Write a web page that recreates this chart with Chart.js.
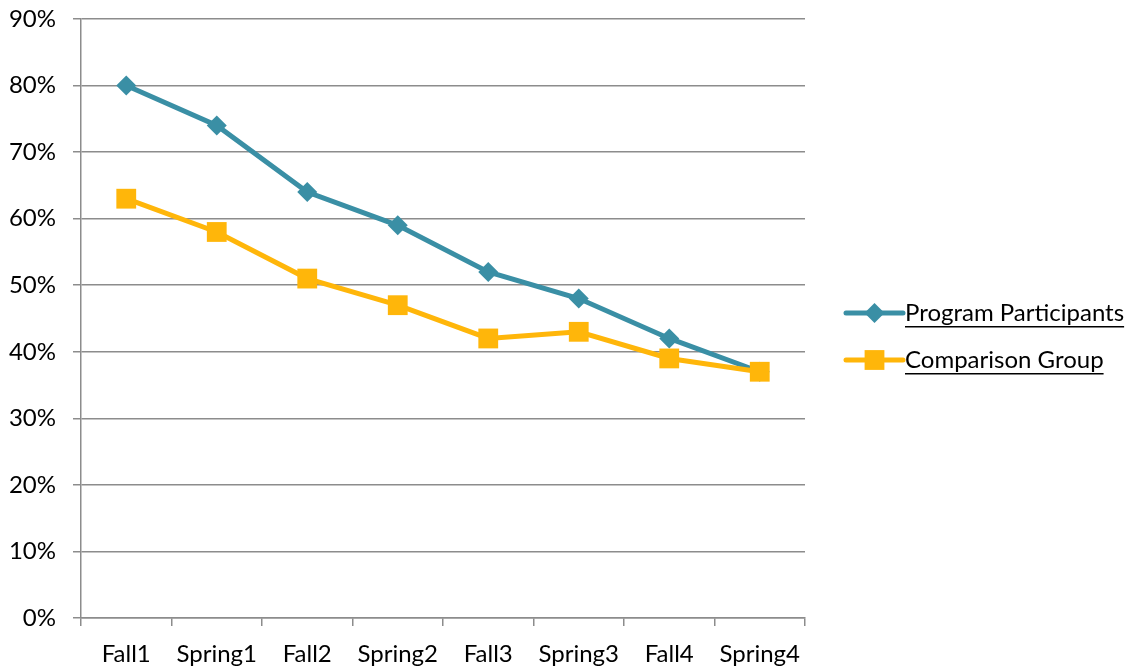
<!DOCTYPE html>
<html>
<head>
<meta charset="utf-8">
<script src="https://cdn.jsdelivr.net/npm/chart.js@4"></script>
<style>
  html, body { margin: 0; padding: 0; background: #fff; }
  #wrap { width: 1138px; height: 669px; position: relative; }
</style>
</head>
<body>
<div id="wrap"><canvas id="c" width="1138" height="669"></canvas></div>
<script>
const categories = ['Fall1', 'Spring1', 'Fall2', 'Spring2', 'Fall3', 'Spring3', 'Fall4', 'Spring4'];
const programParticipants = [80, 74, 64, 59, 52, 48, 42, 37];
const comparisonGroup = [63, 58, 51, 47, 42, 43, 39, 37];
const seriesNames = ['Program Participants', 'Comparison Group'];
const yMin = 0, yMax = 90, yStep = 10;

const FONT = 'Lato, "Open Sans", sans-serif';
const FONT_SIZE = 24;
const TEAL = '#3A8FA5';
const GOLD = '#FFB60A';
const GRID = '#8c8c8c';

// Legend drawn at the right of the plot, with underlined labels
const sideLegend = {
  id: 'sideLegend',
  afterDraw(chart) {
    const ctx = chart.ctx;
    const x0 = 846, x1 = 903, tx = 905;
    const rows = [313, 360];
    ctx.save();
    chart.data.datasets.forEach((ds, i) => {
      const y = rows[i];
      const cx = (x0 + x1) / 2;
      ctx.strokeStyle = ds.borderColor;
      ctx.lineWidth = ds.borderWidth;
      ctx.lineCap = 'round';
      ctx.beginPath();
      ctx.moveTo(x0, y);
      ctx.lineTo(x1, y);
      ctx.stroke();
      ctx.fillStyle = ds.borderColor;
      ctx.beginPath();
      if (ds.pointStyle === 'rect') {
        const s = Math.SQRT1_2 * ds.pointRadius;
        ctx.rect(cx - s, y - s, 2 * s, 2 * s);
      } else {
        const r = ds.pointRadius;
        ctx.moveTo(cx, y - r); ctx.lineTo(cx + r, y); ctx.lineTo(cx, y + r); ctx.lineTo(cx - r, y);
        ctx.closePath();
      }
      ctx.fill();
      ctx.fillStyle = '#000';
      ctx.font = FONT_SIZE + 'px ' + FONT;
      ctx.textBaseline = 'middle';
      ctx.textAlign = 'left';
      ctx.fillText(ds.label, tx, y);
      const w = ctx.measureText(ds.label).width;
      ctx.fillRect(tx, y + 13, w, 1.5);
    });
    ctx.restore();
  }
};

new Chart(document.getElementById('c'), {
  type: 'line',
  data: {
    labels: categories,
    datasets: [
      {
        label: seriesNames[0],
        data: programParticipants,
        order: 1,
        borderColor: TEAL,
        backgroundColor: TEAL,
        borderWidth: 5,
        pointStyle: 'rectRot',
        pointRadius: 10,
        pointHoverRadius: 10,
        pointBorderWidth: 0,
        tension: 0
      },
      {
        label: seriesNames[1],
        data: comparisonGroup,
        order: 0,
        borderColor: GOLD,
        backgroundColor: GOLD,
        borderWidth: 5,
        pointStyle: 'rect',
        pointRadius: 14,
        pointHoverRadius: 14,
        pointBorderWidth: 0,
        tension: 0
      }
    ]
  },
  options: {
    responsive: false,
    animation: false,
    events: [],
    layout: { padding: { left: 0, top: 19, right: 333, bottom: 0 } },
    plugins: { legend: { display: false }, tooltip: { enabled: false } },
    scales: {
      x: {
        offset: true,
        afterFit(scale) {
          scale.height = 51;
          scale.paddingLeft = 0; scale.paddingRight = 0;
        },
        grid: {
          offset: true,
          drawOnChartArea: false,
          drawTicks: true,
          tickLength: 8,
          color: GRID,
          lineWidth: 1.5
        },
        border: { color: GRID, width: 1.5 },
        ticks: {
          color: '#000',
          font: { family: FONT, size: FONT_SIZE },
          padding: 14,
          maxRotation: 0,
          autoSkip: false
        }
      },
      y: {
        min: yMin,
        max: yMax,
        afterFit(scale) {
          scale.width = 81;
          scale.paddingTop = 0; scale.paddingBottom = 0;
        },
        grid: {
          color: GRID,
          lineWidth: 1.5,
          drawTicks: true,
          tickLength: 8
        },
        border: { color: GRID, width: 1.5 },
        ticks: {
          stepSize: yStep,
          color: '#000',
          font: { family: FONT, size: FONT_SIZE },
          padding: 17,
          callback: v => v + '%'
        }
      }
    }
  },
  plugins: [sideLegend]
});
</script>
</body>
</html>
